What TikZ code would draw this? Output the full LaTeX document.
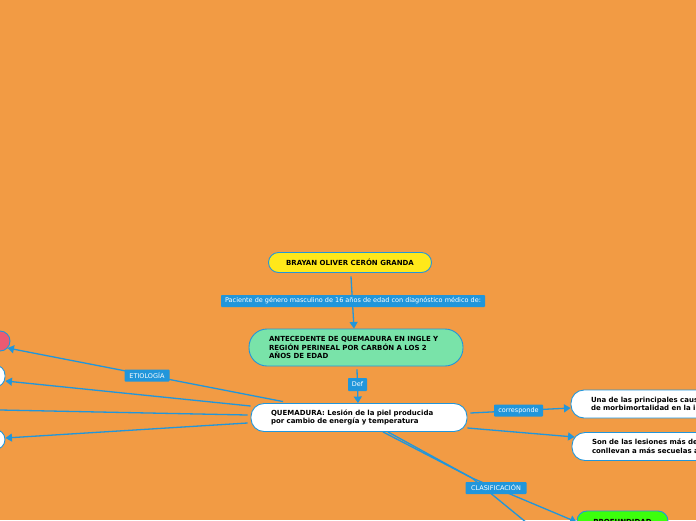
\documentclass[tikz,border=0pt]{standalone}
\usepackage{fontspec}
\setmainfont{DejaVu Sans}
\usepackage{tikz}
\usetikzlibrary{arrows.meta}
\definecolor{fondo}{HTML}{F29B44}
\definecolor{azul}{HTML}{2196DB}
\definecolor{amarillo}{HTML}{FFE81A}
\definecolor{menta}{HTML}{79E3A9}
\definecolor{rosa}{HTML}{EB5A72}
\definecolor{verde}{HTML}{3CFF0C}
\tikzset{
  tema/.style={draw=azul, line width=0.9pt, rounded corners=#1, font=\fontsize{7}{8.6}\selectfont\bfseries, text=black, inner sep=0pt, align=left},
  etiqueta/.style={fill=azul, text=white, font=\fontsize{6.5}{7}\selectfont, inner sep=0pt, rounded corners=0.8pt, anchor=center},
  enlace/.style={draw=azul, line width=1.3pt},
  flecha/.style={enlace, -{Triangle[length=6.5pt,width=8pt]}}
}
\begin{document}
\begin{tikzpicture}[x=1pt, y=-1pt]
    \useasboundingbox (0,0) rectangle (696,520);
    \clip (0,0) rectangle (696,520);
    \fill[fondo] (0,0) rectangle (696,520);

    % --- temas ---
    \node[tema=10pt, fill=amarillo, minimum width=163pt, minimum height=20pt, align=center] (titulo) at (350,262.5) {BRAYAN OLIVER CERÓN GRANDA};
    \node[tema=18pt, fill=menta, minimum width=214pt, minimum height=37pt, text width=174pt] (antecedente) at (356,347.5) {ANTECEDENTE DE QUEMADURA EN INGLE Y\\REGIÓN PERINEAL POR CARBÓN A LOS 2\\AÑOS DE EDAD};
    \node[tema=13pt, fill=white, minimum width=216pt, minimum height=28pt, text width=176pt] (quemadura) at (359,417.5) {QUEMADURA: Lesión de la piel producida\\por cambio de energía y temperatura};

    % los que se salen del borde
    \node[tema=10pt, fill=rosa, minimum width=30pt, minimum height=20pt] (causa) at (-5,341) {};
    \node[tema=10pt, fill=white, minimum width=40pt, minimum height=22pt] (tipoa) at (-15,376) {};
    \node[tema=10pt, fill=white, minimum width=40pt, minimum height=20pt] (tipob) at (-15,439.5) {};
    \coordinate (fuera) at (0,410);
    \node[tema=13pt, fill=white, minimum width=200pt, minimum height=28pt, text width=160pt] (causas) at (671,404) {Una de las principales caus\\de morbimortalidad en la i};
    \node[tema=13pt, fill=white, minimum width=200pt, minimum height=28pt, text width=160pt] (lesiones) at (672,446.5) {Son de las lesiones más de\\conllevan a más secuelas a};
    \node[tema=10pt, fill=verde, minimum width=91pt, minimum height=22pt, align=center] (profundidad) at (622.5,522) {PROFUNDIDAD};
    \coordinate (cruce) at (472,478);
    \coordinate (abajo) at (527,523);

    % --- enlaces ---
    \draw[flecha] (titulo.south)+(1,3.5) -- ([xshift=-2pt]antecedente.north);
    \draw[flecha] (antecedente.south)+(1,3) -- ([xshift=-1pt]quemadura.north);
    \draw[flecha] ([xshift=-76pt,yshift=1.5pt]quemadura.north) -- ([xshift=-3pt,yshift=-7pt]causa.east);
    \draw[flecha] ([yshift=11.5pt]quemadura.west) -- ([yshift=-5pt]tipoa.east);
    \draw[enlace] ([xshift=-3pt,yshift=2.5pt]quemadura.west) -- (fuera);
    \draw[flecha] ([xshift=-3pt,yshift=-5.5pt]quemadura.west) -- ([yshift=1.5pt]tipob.east);
    \draw[flecha] ([xshift=3pt,yshift=4.5pt]quemadura.east) -- ([yshift=-4pt]causas.west);
    \draw[flecha] ([yshift=-10.5pt]quemadura.east) -- ([xshift=3pt,yshift=9.5pt]lesiones.west);
    \draw[enlace] ([xshift=24pt]quemadura.south) -- (cruce) -- (abajo);
    \draw[flecha] ([xshift=29pt]quemadura.south) -- (cruce) -- (profundidad.west);

    % --- etiquetas ---
    \node[etiqueta, minimum width=264pt, minimum height=12pt] (paciente) at (353,301) {Paciente de género masculino de 16 años de edad con diagnóstico médico de:};
    \node[etiqueta, minimum width=19pt, minimum height=13pt] (def) at (357.5,384.5) {Def};
    \node[etiqueta, minimum width=45pt, minimum height=12pt] (etiologia) at (147,375.5) {ETIOLOGÍA};
    \node[etiqueta, minimum width=49pt, minimum height=12pt] (corresponde) at (518.5,410.5) {corresponde};
    \node[etiqueta, minimum width=61pt, minimum height=12pt] (clasificacion) at (496,488) {CLASIFICACIÓN};
\end{tikzpicture}
\end{document}
